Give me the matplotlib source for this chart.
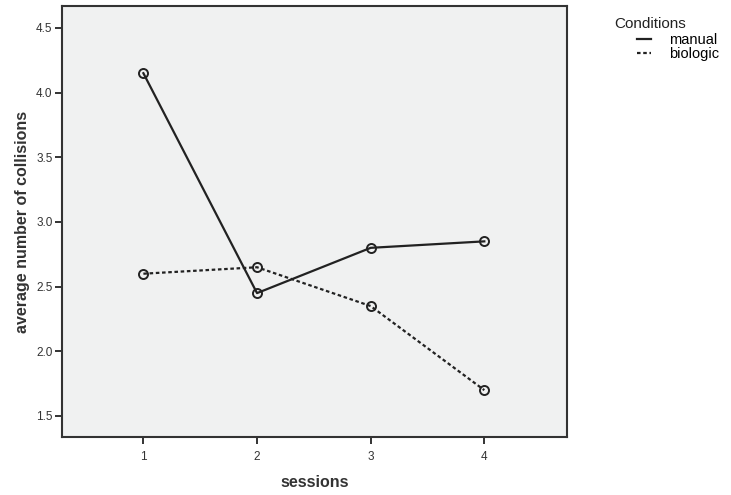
import matplotlib.pyplot as plt
from matplotlib.lines import Line2D

plt.rcParams['font.family'] = ['Liberation Sans', 'DejaVu Sans']

# Daten
sessions = [1, 2, 3, 4]
manual = [4.15, 2.45, 2.80, 2.85]
biologic = [2.60, 2.65, 2.35, 1.70]
y_ticks = [1.5, 2.0, 2.5, 3.0, 3.5, 4.0, 4.5]

fig = plt.figure(figsize=(7.31, 4.95), dpi=100)
ax = fig.add_axes([0.085, 0.117, 0.691, 0.871])
ax.set_facecolor('#f0f1f1')

ax.plot(sessions, manual, color='#222222', lw=1.6, marker='o', ms=6.5,
        mfc='none', mec='#222222', mew=1.4)
ax.plot(sessions, biologic, color='#222222', lw=1.6, ls=(0, (1.6, 1.2)),
        marker='o', ms=6.5, mfc='none', mec='#222222', mew=1.4)

ax.set_xlim(0.285, 4.73)
ax.set_ylim(1.337, 4.67)
ax.set_xticks(sessions)
ax.set_yticks(y_ticks)
ax.set_yticklabels([f'{v:.1f}' for v in y_ticks])

for s in ax.spines.values():
    s.set_color('#333333')
    s.set_linewidth(1.5)
ax.tick_params(axis='both', direction='out', length=5, width=1.4,
               color='#333333', labelsize=8.5, labelcolor='#333333', pad=2)
ax.tick_params(axis='x', pad=5)

ax.set_xlabel('sessions', fontsize=11.5, fontweight='bold', color='#333333', labelpad=9)
ax.set_ylabel('average number of collisions', fontsize=11.5, fontweight='bold',
              color='#333333', labelpad=4)

# Legende
fig.text(0.840, 0.952, 'Conditions', fontsize=11, color='#222222', va='center')
handles = [Line2D([], [], color='#222222', lw=1.6),
           Line2D([], [], color='#222222', lw=1.6, ls=(0, (1.6, 1.2)))]
fig.legend(handles, ['manual', 'biologic'], loc='upper left',
           bbox_to_anchor=(0.871, 0.934), frameon=False, fontsize=10.5,
           handlelength=1.0, handletextpad=1.2, labelspacing=0.0,
           handleheight=0.5, borderpad=0, borderaxespad=0)

plt.savefig('out.png', dpi=100)
